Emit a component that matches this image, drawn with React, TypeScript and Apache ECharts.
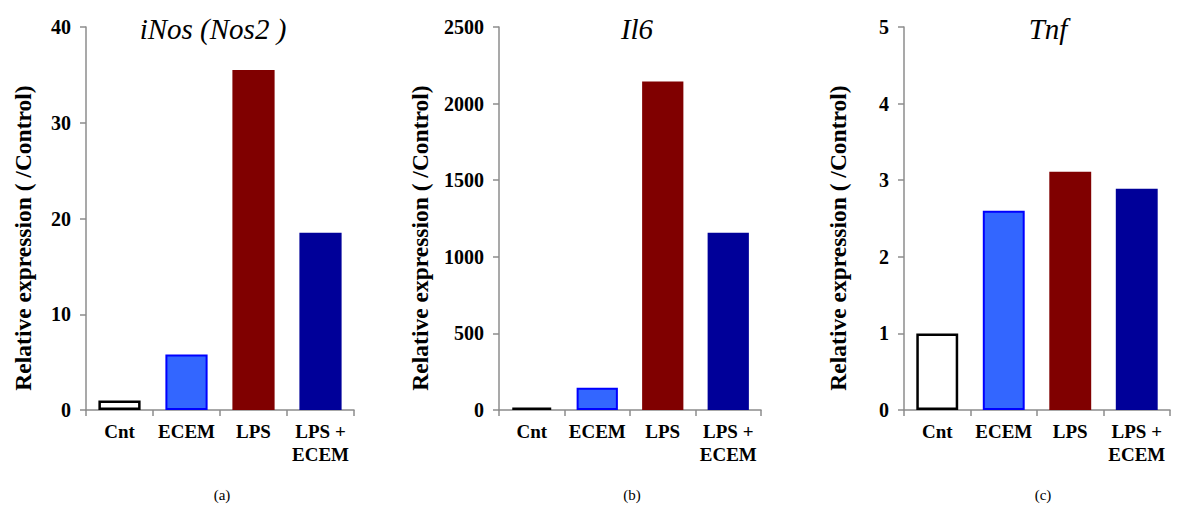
import React, { useEffect, useRef } from "react";
import * as echarts from "echarts";

const categories = ["Cnt", "ECEM", "LPS", "LPS +\nECEM"];
const titles = ["iNos (Nos2 )", "Il6", "Tnf"];
const panelLabels = ["(a)", "(b)", "(c)"];
const nosValues = [1, 5.8, 35.5, 18.5];
const il6Values = [15, 145, 2145, 1157];
const tnfValues = [1, 2.6, 3.11, 2.89];
const yMax = [40, 2500, 5];
const yInterval = [10, 500, 1];
const yName = "Relative expression ( /Control)";

const FONT = "Times New Roman, Liberation Serif, serif";

const barStyles = [
  { color: "#FFFFFF", borderColor: "#000000", borderWidth: 2.5 },
  { color: "#3366FF", borderColor: "#0000FF", borderWidth: 2 },
  { color: "#800000", borderColor: "#800000", borderWidth: 0 },
  { color: "#000099", borderColor: "#000099", borderWidth: 0 },
];

const grids = [
  { left: 86, width: 268, top: 27, height: 383 },
  { left: 499, width: 262, top: 27, height: 383 },
  { left: 904, width: 266, top: 27, height: 383 },
];
const titleX = [208, 632, 1043];
const yNameX = [23, 420, 838];
const panelLabelX = [222, 632, 1043];

export default function App() {
  const ref = useRef<HTMLDivElement>(null);
  useEffect(() => {
    document.body.style.margin = "0";
    if (!ref.current) return;
    const chart = echarts.init(ref.current, null, { renderer: "svg" });
    const allValues = [nosValues, il6Values, tnfValues];
    const axisLineStyle = { color: "#8C8C8C", width: 1.5 };
    const option: any = {
      animation: false,
      backgroundColor: "#FFFFFF",
      grid: grids.map((g) => ({ ...g, containLabel: false })),
      title: titles.map((t, i) => ({
        text: t,
        left: titleX[i],
        top: 9,
        textAlign: "center",
        textStyle: {
          fontFamily: FONT,
          fontStyle: "italic",
          fontWeight: "normal",
          fontSize: 29,
          color: "#000",
        },
      })),
      xAxis: grids.map((_, i) => ({
        type: "category",
        gridIndex: i,
        data: categories,
        axisLine: { lineStyle: axisLineStyle },
        axisTick: { show: true, length: 6, lineStyle: axisLineStyle, alignWithLabel: false },
        axisLabel: {
          interval: 0,
          margin: 10,
          fontFamily: FONT,
          fontWeight: "bold",
          fontSize: 19,
          lineHeight: 23,
          color: "#000",
        },
      })),
      yAxis: grids.map((_, i) => ({
        type: "value",
        gridIndex: i,
        min: 0,
        max: yMax[i],
        interval: yInterval[i],
        splitLine: { show: false },
        axisLine: { show: true, lineStyle: axisLineStyle },
        axisTick: { show: true, length: 6, lineStyle: axisLineStyle },
        axisLabel: {
          margin: 15,
          fontFamily: FONT,
          fontWeight: "bold",
          fontSize: 20,
          color: "#000",
          formatter: (v: number) => String(v),
        },
      })),
      series: allValues.map((vals, i) => ({
        type: "bar",
        xAxisIndex: i,
        yAxisIndex: i,
        barWidth: "63%",
        data: vals.map((v, j) => ({ value: v, itemStyle: barStyles[j] })),
      })),
      graphic: [
        ...yNameX.map((x) => ({
          type: "text",
          x,
          y: 238,
          rotation: Math.PI / 2,
          style: {
            text: yName,
            fontFamily: FONT,
            fontWeight: "bold",
            fontSize: 23.5,
            fill: "#000",
            align: "center",
            verticalAlign: "middle",
          },
        })),
        ...panelLabelX.map((x, i) => ({
          type: "text",
          x,
          y: 495,
          style: {
            text: panelLabels[i],
            fontFamily: FONT,
            fontSize: 15,
            fill: "#000",
            align: "center",
            verticalAlign: "middle",
          },
        })),
      ],
    };
    chart.setOption(option);
    return () => chart.dispose();
  }, []);
  return <div ref={ref} style={{ width: 1184, height: 508 }} />;
}
